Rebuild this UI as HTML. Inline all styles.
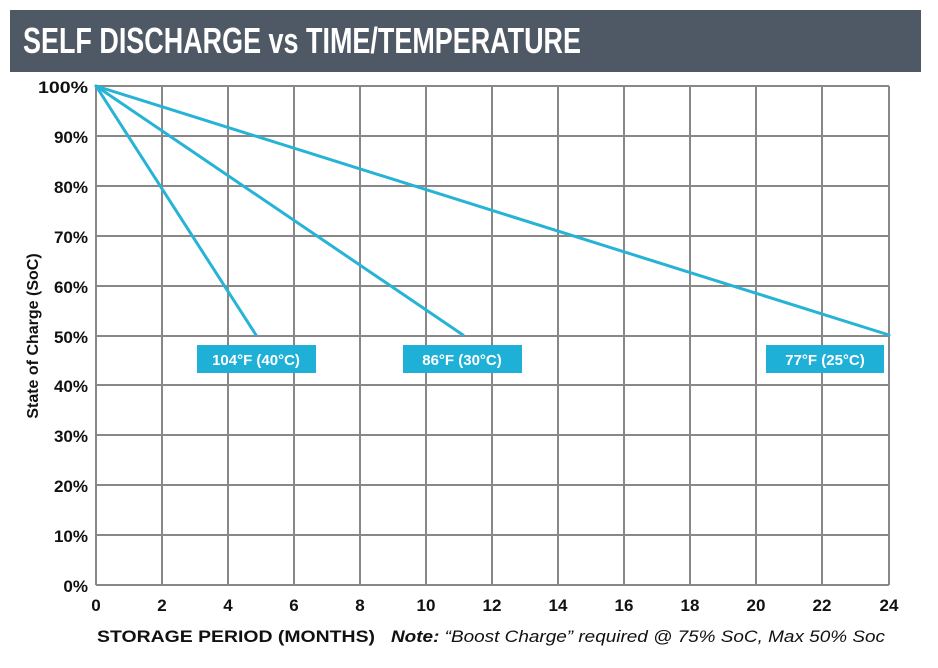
<!DOCTYPE html>
<html><head><meta charset="utf-8"><style>
html,body{margin:0;padding:0;background:#fff;}
svg{display:block;}
</style></head><body>
<svg width="938" height="668" xmlns="http://www.w3.org/2000/svg">
<rect x="10" y="10" width="911" height="62" fill="#4f5865"/>
<text x="23" y="53" fill="#fff" font-family="Liberation Sans Narrow, Liberation Sans, sans-serif" font-weight="bold" font-size="36" textLength="558" lengthAdjust="spacingAndGlyphs">SELF DISCHARGE vs TIME/TEMPERATURE</text>
<g stroke="#888" stroke-width="2" fill="none">
<line x1="96" y1="86" x2="889" y2="86"/>
<line x1="96" y1="136" x2="889" y2="136"/>
<line x1="96" y1="186" x2="889" y2="186"/>
<line x1="96" y1="236" x2="889" y2="236"/>
<line x1="96" y1="286" x2="889" y2="286"/>
<line x1="96" y1="336" x2="889" y2="336"/>
<line x1="96" y1="385" x2="889" y2="385"/>
<line x1="96" y1="435" x2="889" y2="435"/>
<line x1="96" y1="485" x2="889" y2="485"/>
<line x1="96" y1="535" x2="889" y2="535"/>
<line x1="96" y1="585" x2="889" y2="585"/>
<line x1="96" y1="86" x2="96" y2="585"/>
<line x1="162" y1="86" x2="162" y2="585"/>
<line x1="228" y1="86" x2="228" y2="585"/>
<line x1="294" y1="86" x2="294" y2="585"/>
<line x1="360" y1="86" x2="360" y2="585"/>
<line x1="426" y1="86" x2="426" y2="585"/>
<line x1="492" y1="86" x2="492" y2="585"/>
<line x1="558" y1="86" x2="558" y2="585"/>
<line x1="624" y1="86" x2="624" y2="585"/>
<line x1="690" y1="86" x2="690" y2="585"/>
<line x1="756" y1="86" x2="756" y2="585"/>
<line x1="822" y1="86" x2="822" y2="585"/>
<line x1="889" y1="86" x2="889" y2="585"/>
</g>
<g stroke="#27b3d6" stroke-width="3" fill="none" stroke-linecap="round">
<line x1="96" y1="86" x2="256" y2="335"/>
<line x1="96" y1="86" x2="463" y2="335"/>
<line x1="96" y1="86" x2="889" y2="335"/>
</g>
<g fill="#1fb0d8">
<rect x="197" y="345" width="119" height="28"/>
<rect x="403" y="345" width="119" height="28"/>
<rect x="766" y="345" width="118" height="28"/>
</g>
<g fill="#fff" font-family="Liberation Sans, sans-serif" font-weight="bold" font-size="15" text-anchor="middle">
<text x="256" y="365">104°F (40°C)</text>
<text x="462" y="365">86°F (30°C)</text>
<text x="825" y="365">77°F (25°C)</text>
</g>
<g fill="#111" font-family="Liberation Sans Narrow, Liberation Sans, sans-serif" font-weight="bold" font-size="17" text-anchor="end">
<text x="88" y="93" textLength="50" lengthAdjust="spacingAndGlyphs">100%</text>
<text x="88" y="143">90%</text>
<text x="88" y="193">80%</text>
<text x="88" y="243">70%</text>
<text x="88" y="293">60%</text>
<text x="88" y="343">50%</text>
<text x="88" y="392">40%</text>
<text x="88" y="442">30%</text>
<text x="88" y="492">20%</text>
<text x="88" y="542">10%</text>
<text x="88" y="592">0%</text>
</g>
<g fill="#111" font-family="Liberation Sans Narrow, Liberation Sans, sans-serif" font-weight="bold" font-size="17" text-anchor="middle">
<text x="96" y="611">0</text>
<text x="162" y="611">2</text>
<text x="228" y="611">4</text>
<text x="294" y="611">6</text>
<text x="360" y="611">8</text>
<text x="426" y="611">10</text>
<text x="492" y="611">12</text>
<text x="558" y="611">14</text>
<text x="624" y="611">16</text>
<text x="690" y="611">18</text>
<text x="756" y="611">20</text>
<text x="822" y="611">22</text>
<text x="889" y="611">24</text>
</g>
<text transform="translate(38,336) rotate(-90)" fill="#111" font-family="Liberation Sans, sans-serif" font-weight="bold" font-size="16" text-anchor="middle">State of Charge (SoC)</text>
<text x="97" y="642" fill="#111" font-family="Liberation Sans Narrow, Liberation Sans, sans-serif" font-weight="bold" font-size="17" textLength="278" lengthAdjust="spacingAndGlyphs">STORAGE PERIOD (MONTHS)</text>
<text x="391" y="642" fill="#111" font-family="Liberation Sans Narrow, Liberation Sans, sans-serif" font-style="italic" font-size="17" textLength="494" lengthAdjust="spacingAndGlyphs"><tspan font-weight="bold">Note:</tspan> “Boost Charge” required @ 75% SoC, Max 50% Soc</text>
</svg>
</body></html>
